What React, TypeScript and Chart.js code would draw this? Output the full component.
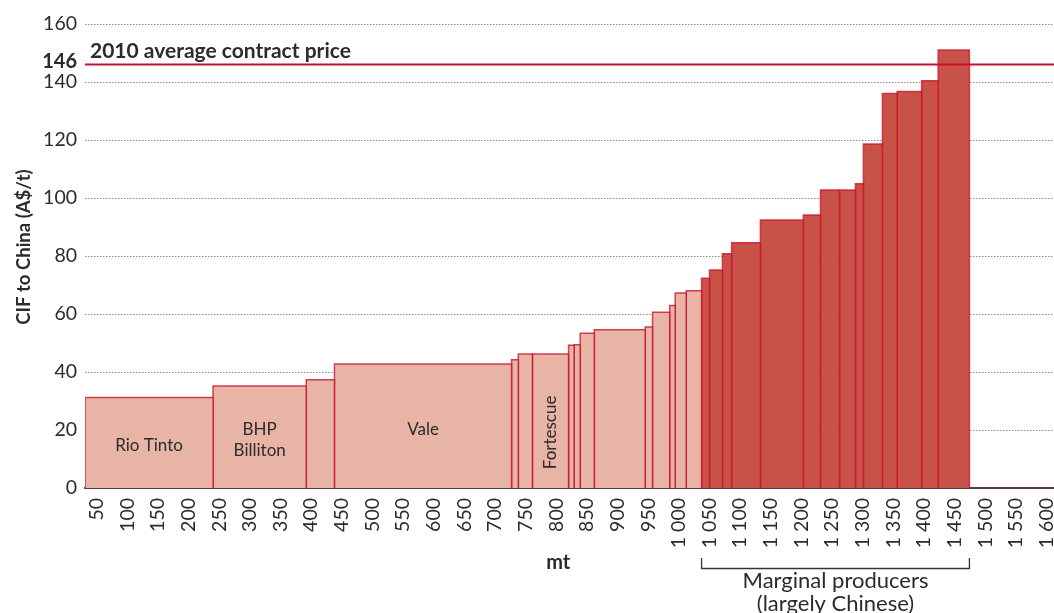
import React, { useEffect, useRef } from 'react';
import { Chart, registerables } from 'chart.js';

Chart.register(...registerables);

// Cumulative capacity boundaries (mt) of each producer block on the cost curve
const mtEdges = [31, 240, 392, 438, 727, 738, 761, 820, 829, 839, 862, 945, 957, 985, 994, 1012, 1037, 1050, 1071, 1086, 1133, 1203, 1231, 1262, 1288, 1301, 1332, 1356, 1396, 1423, 1474];
// CIF cost to China (A$/t) for each block
const cifCosts = [31.2, 35.2, 37.3, 42.8, 44.2, 46.2, 46.2, 49.2, 49.4, 53.4, 54.6, 55.5, 60.6, 62.9, 67.2, 68.0, 72.3, 75.2, 80.8, 84.6, 92.4, 94.1, 102.8, 102.8, 104.9, 118.6, 136.0, 136.7, 140.4, 151.0];
// Index of first marginal (largely Chinese) producer block
const firstMarginalIndex = 16;
const contractPrice = 146;
const contractLabel = '2010 average contract price';
const namedProducers = ['Rio Tinto', 'BHP\nBilliton', 'Vale', 'Fortescue'];
const namedBarIndex = [0, 1, 3, 6];
const xTickValues = [50, 100, 150, 200, 250, 300, 350, 400, 450, 500, 550, 600, 650, 700, 750, 800, 850, 900, 950, 1000, 1050, 1100, 1150, 1200, 1250, 1300, 1350, 1400, 1450, 1500, 1550, 1600];
const xMin = 31;
const xMax = 1612;
const yMin = 0;
const yMax = 160;
const yStep = 20;

const FONT = 'Lato, "Noto Sans", sans-serif';
const TEXT = '#2b2b2b';
const LIGHT = '#e8b4a6';
const DARK = '#c85248';
const EDGE = 'rgba(200,20,45,0.8)';
const PRICE = '#c8102e';

const fmt = (v: number) =>
  v >= 1000 ? Math.floor(v / 1000) + ' ' + String(v % 1000).padStart(3, '0') : String(v);

const annotate = {
  id: 'annotate',
  afterDraw(chart: any) {
    const { ctx, chartArea, scales } = chart;
    const x = scales.x;
    const y = scales.y;
    ctx.save();
    ctx.fillStyle = TEXT;

    // price label and value
    ctx.font = `bold 21px ${FONT}`;
    ctx.textAlign = 'left';
    ctx.textBaseline = 'alphabetic';
    ctx.fillText(contractLabel, chartArea.left + 5, y.getPixelForValue(contractPrice) - 7);
    ctx.font = `bold 20px ${FONT}`;
    ctx.textAlign = 'right';
    ctx.textBaseline = 'middle';
    ctx.fillText(String(contractPrice), chartArea.left - 8, y.getPixelForValue(contractPrice) - 3);

    // producer names inside bars
    ctx.font = `17px ${FONT}`;
    namedProducers.forEach((name, k) => {
      const i = namedBarIndex[k];
      const cx = x.getPixelForValue((mtEdges[i] + mtEdges[i + 1]) / 2);
      const base = y.getPixelForValue(0);
      const top = y.getPixelForValue(cifCosts[i]);
      if (name === 'Fortescue') {
        const cy = base - (base - top) * 0.415;
        ctx.save();
        ctx.translate(cx, cy);
        ctx.rotate(-Math.PI / 2);
        ctx.textAlign = 'center';
        ctx.textBaseline = 'middle';
        ctx.fillText(name, 0, 0);
        ctx.restore();
      } else {
        const lines = name.split('\n');
        const cy = base - (base - top) * 0.47;
        const lh = 21;
        ctx.textAlign = 'center';
        ctx.textBaseline = 'middle';
        lines.forEach((ln, j) => {
          ctx.fillText(ln, cx, cy + (j - (lines.length - 1) / 2) * lh);
        });
      }
    });

    // y axis title
    ctx.save();
    ctx.font = `bold 18.5px ${FONT}`;
    ctx.translate(24, (chartArea.top + chartArea.bottom) / 2 - 9);
    ctx.rotate(-Math.PI / 2);
    ctx.textAlign = 'center';
    ctx.textBaseline = 'middle';
    ctx.fillText('CIF to China (A$/t)', 0, 0);
    ctx.restore();

    // x axis title
    ctx.font = `bold 20px ${FONT}`;
    ctx.textAlign = 'center';
    ctx.textBaseline = 'middle';
    ctx.fillText('mt', x.getPixelForValue(803), 563);

    // bracket for marginal producers
    const bx0 = x.getPixelForValue(mtEdges[firstMarginalIndex]);
    const bx1 = x.getPixelForValue(mtEdges[mtEdges.length - 1]);
    ctx.strokeStyle = '#333';
    ctx.lineWidth = 1.3;
    ctx.beginPath();
    ctx.moveTo(bx0, 558);
    ctx.lineTo(bx0, 568.5);
    ctx.lineTo(bx1, 568.5);
    ctx.lineTo(bx1, 558);
    ctx.stroke();
    ctx.font = `22px ${FONT}`;
    ctx.fillText('Marginal producers', (bx0 + bx1) / 2, 581);
    ctx.fillText('(largely Chinese)', (bx0 + bx1) / 2, 604);

    ctx.restore();
  },
};

export default function App() {
  const ref = useRef<HTMLCanvasElement | null>(null);

  useEffect(() => {
    if (!ref.current) return;
    const barSets = cifCosts.map((c, i) => ({
      type: 'line' as const,
      data: [
        { x: mtEdges[i], y: 0 },
        { x: mtEdges[i], y: c },
        { x: mtEdges[i + 1], y: c },
        { x: mtEdges[i + 1], y: 0 },
      ],
      backgroundColor: i >= firstMarginalIndex ? DARK : LIGHT,
      borderColor: EDGE,
      borderWidth: 1.5,
      fill: 'origin',
      pointRadius: 0,
      tension: 0,
      order: 1,
    }));
    const priceSet = {
      type: 'line' as const,
      data: [
        { x: xMin, y: contractPrice },
        { x: xMax, y: contractPrice },
      ],
      borderColor: PRICE,
      borderWidth: 2,
      fill: false,
      pointRadius: 0,
      order: -1,
    };
    const chart = new Chart(ref.current, {
      type: 'line',
      data: { datasets: [priceSet, ...barSets] as any },
      plugins: [annotate],
      options: {
        responsive: false,
        animation: false,
        devicePixelRatio: 1,
        events: [],
        layout: { padding: { top: 24, left: 0, right: 0, bottom: 0 } },
        plugins: { legend: { display: false }, tooltip: { enabled: false } },
        scales: {
          x: {
            type: 'linear',
            position: 'bottom',
            min: xMin,
            max: xMax,
            z: 1,
            afterBuildTicks: (s: any) => {
              s.ticks = xTickValues.map((v) => ({ value: v }));
            },
            afterFit: (s: any) => {
              s.height = 125;
              s.paddingLeft = 0;
              s.paddingRight = 0;
            },
            grid: { display: false, drawTicks: false },
            border: { display: true, color: '#5a3f3f', width: 2 },
            ticks: {
              autoSkip: false,
              minRotation: 90,
              maxRotation: 90,
              padding: 10,
              color: TEXT,
              font: { family: FONT, size: 19.5 },
              callback: (v: any) => fmt(Number(v)),
            },
          },
          y: {
            type: 'linear',
            min: yMin,
            max: yMax,
            afterFit: (s: any) => {
              s.width = 85;
              s.paddingTop = 0;
              s.paddingBottom = 0;
            },
            grid: { color: '#8a8a8a', lineWidth: 1, drawTicks: false },
            border: { display: false, dash: [1.5, 1.5] },
            ticks: {
              stepSize: yStep,
              padding: 8,
              color: TEXT,
              font: { family: FONT, size: 19.5 },
            },
          },
        },
      } as any,
    });
    return () => chart.destroy();
  }, []);

  return (
    <div style={{ position: 'absolute', left: 0, top: 0, width: 1054, height: 613, background: '#fff' }}>
      <canvas ref={ref} width={1054} height={613} style={{ display: 'block' }} />
    </div>
  );
}
